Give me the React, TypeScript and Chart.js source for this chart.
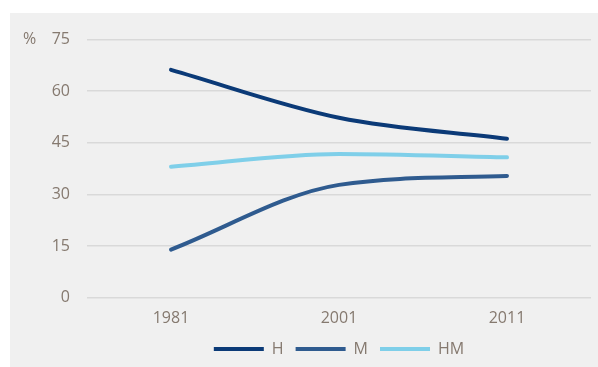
import React, { useEffect, useRef } from "react";
import { Chart, registerables } from "chart.js";

Chart.register(...registerables);

const categories = ["1981", "2001", "2011"];
const seriesH = [66.2, 52.3, 46.2];
const seriesM = [14, 32.8, 35.4];
const seriesHM = [38.1, 41.8, 40.8];
const yTicks = [0, 15, 30, 45, 60, 75];

const TEXT = "#85796f";
const FONT = "'Open Sans', 'Noto Sans', sans-serif";

const percentPlugin = {
  id: "percentLabel",
  afterLayout(chart: any) {
    const lg = chart.legend;
    if (!lg) return;
    const ca = chart.chartArea;
    const shift = (ca.left + ca.right) / 2 - (lg.left + lg.right) / 2;
    lg.left += shift;
    lg.right += shift;
  },
  afterDraw(chart: any) {
    const { ctx, scales } = chart;
    const y = scales.y.getPixelForValue(75);
    ctx.save();
    ctx.fillStyle = TEXT;
    ctx.font = `16px ${FONT}`;
    ctx.textAlign = "left";
    ctx.textBaseline = "middle";
    ctx.fillText("%", 13, y);
    ctx.restore();
  },
};

export default function App() {
  const ref = useRef<HTMLCanvasElement | null>(null);
  useEffect(() => {
    if (!ref.current) return;
    const mk = (label: string, data: number[], color: string) => ({
      label,
      data,
      borderColor: color,
      backgroundColor: color,
      borderWidth: 4,
      borderCapStyle: "round" as const,
      pointRadius: 0,
      pointHoverRadius: 0,
      cubicInterpolationMode: "monotone" as const,
      pointStyle: "line" as const,
    });
    const chart = new Chart(ref.current, {
      type: "line",
      data: {
        labels: categories,
        datasets: [
          mk("H", seriesH, "#0b3a77"),
          mk("M", seriesM, "#2f5b8f"),
          mk("HM", seriesHM, "#7fcfe9"),
        ],
      },
      options: {
        animation: false,
        responsive: false,
        maintainAspectRatio: false,
        layout: { padding: { top: 18, right: 7, left: 0, bottom: 0 } },
        plugins: {
          tooltip: { enabled: false },
          legend: {
            position: "bottom",
            labels: {
              usePointStyle: true,
              pointStyle: "line",
              pointStyleWidth: 50,
              boxHeight: 4,
              color: TEXT,
              font: { family: FONT, size: 16 },
              padding: 12,
            },
          },
        },
        scales: {
          x: {
            offset: true,
            grid: { display: false, drawTicks: false },
            border: { display: false },
            ticks: { color: TEXT, font: { family: FONT, size: 16 }, padding: 11 },
            afterFit(scale: any) {
              scale.height -= 10;
            },
          },
          y: {
            min: 0,
            max: 75,
            afterBuildTicks(scale: any) {
              scale.ticks = yTicks.map((v) => ({ value: v }));
            },
            afterFit(scale: any) {
              scale.width = 77;
            },
            grid: { color: "#d9d9d9", lineWidth: 1.5, drawTicks: false },
            border: { display: false },
            ticks: { color: TEXT, font: { family: FONT, size: 16 }, padding: 17 },
          },
        },
      },
      plugins: [percentPlugin],
    });
    return () => chart.destroy();
  }, []);
  return (
    <div style={{ position: "fixed", left: 0, top: 0, width: 598, height: 367, background: "#ffffff" }}>
      <div style={{ position: "absolute", left: 10, top: 13, width: 588, height: 354, background: "#f0f0f0" }}>
        <canvas ref={ref} width={588} height={354} style={{ width: 588, height: 354, display: "block" }} />
      </div>
    </div>
  );
}
